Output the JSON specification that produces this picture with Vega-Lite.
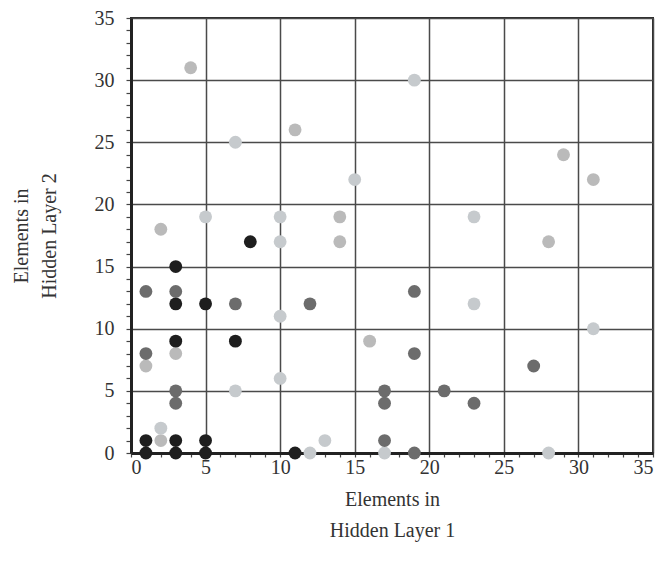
{
  "$schema": "https://vega.github.io/schema/vega-lite/v6.json",
  "width": 522,
  "height": 435,
  "autosize": {"type": "none"},
  "padding": {"left": 131, "top": 18, "right": 12, "bottom": 124},
  "background": "white",
  "config": {
    "view": {"stroke": "#2a2a2a", "strokeWidth": 2},
    "font": "Liberation Serif"
  },
  "data": {
    "values": [
      {"h1": 4, "h2": 31, "group": "D"},
      {"h1": 11, "h2": 26, "group": "D"},
      {"h1": 2, "h2": 18, "group": "D"},
      {"h1": 14, "h2": 19, "group": "D"},
      {"h1": 14, "h2": 17, "group": "D"},
      {"h1": 16, "h2": 9, "group": "D"},
      {"h1": 28, "h2": 17, "group": "D"},
      {"h1": 29, "h2": 24, "group": "D"},
      {"h1": 31, "h2": 22, "group": "D"},
      {"h1": 3, "h2": 8, "group": "D"},
      {"h1": 1, "h2": 7, "group": "D"},
      {"h1": 2, "h2": 1, "group": "D"},
      {"h1": 19, "h2": 30, "group": "C"},
      {"h1": 7, "h2": 25, "group": "C"},
      {"h1": 15, "h2": 22, "group": "C"},
      {"h1": 5, "h2": 19, "group": "C"},
      {"h1": 10, "h2": 19, "group": "C"},
      {"h1": 23, "h2": 19, "group": "C"},
      {"h1": 10, "h2": 17, "group": "C"},
      {"h1": 10, "h2": 11, "group": "C"},
      {"h1": 23, "h2": 12, "group": "C"},
      {"h1": 31, "h2": 10, "group": "C"},
      {"h1": 10, "h2": 6, "group": "C"},
      {"h1": 7, "h2": 5, "group": "C"},
      {"h1": 2, "h2": 2, "group": "C"},
      {"h1": 13, "h2": 1, "group": "C"},
      {"h1": 12, "h2": 0, "group": "C"},
      {"h1": 17, "h2": 0, "group": "C"},
      {"h1": 28, "h2": 0, "group": "C"},
      {"h1": 1, "h2": 13, "group": "B"},
      {"h1": 1, "h2": 8, "group": "B"},
      {"h1": 3, "h2": 13, "group": "B"},
      {"h1": 3, "h2": 5, "group": "B"},
      {"h1": 3, "h2": 4, "group": "B"},
      {"h1": 7, "h2": 12, "group": "B"},
      {"h1": 12, "h2": 12, "group": "B"},
      {"h1": 17, "h2": 5, "group": "B"},
      {"h1": 17, "h2": 4, "group": "B"},
      {"h1": 17, "h2": 1, "group": "B"},
      {"h1": 19, "h2": 0, "group": "B"},
      {"h1": 19, "h2": 13, "group": "B"},
      {"h1": 19, "h2": 8, "group": "B"},
      {"h1": 21, "h2": 5, "group": "B"},
      {"h1": 23, "h2": 4, "group": "B"},
      {"h1": 27, "h2": 7, "group": "B"},
      {"h1": 1, "h2": 0, "group": "A"},
      {"h1": 1, "h2": 1, "group": "A"},
      {"h1": 3, "h2": 0, "group": "A"},
      {"h1": 3, "h2": 1, "group": "A"},
      {"h1": 5, "h2": 0, "group": "A"},
      {"h1": 5, "h2": 1, "group": "A"},
      {"h1": 3, "h2": 9, "group": "A"},
      {"h1": 3, "h2": 12, "group": "A"},
      {"h1": 3, "h2": 15, "group": "A"},
      {"h1": 5, "h2": 12, "group": "A"},
      {"h1": 7, "h2": 9, "group": "A"},
      {"h1": 8, "h2": 17, "group": "A"},
      {"h1": 11, "h2": 0, "group": "A"}
    ]
  },
  "mark": {"type": "circle", "size": 165, "opacity": 1},
  "encoding": {
    "x": {
      "field": "h1",
      "type": "quantitative",
      "scale": {"domain": [0, 35], "nice": false, "zero": true},
      "axis": {
        "title": ["Elements in", "Hidden Layer 1"],
        "values": [0,1,2,3,4,5,6,7,8,9,10,11,12,13,14,15,16,17,18,19,20,21,22,23,24,25,26,27,28,29,30,31,32,33,34,35],
        "labelExpr": "datum.value % 5 === 0 ? datum.label : ''",
        "labelOverlap": false,
        "labelFont": "Liberation Serif",
        "labelFontSize": 20,
        "labelColor": "#333333",
        "labelPadding": 0,
        "titleFont": "Liberation Serif",
        "titleFontSize": 20,
        "titleFontWeight": "normal",
        "titleColor": "#333333",
        "titleLineHeight": 31,
        "titlePadding": 12,
        "domainColor": "#222222",
        "domainWidth": 3,
        "tickColor": "#444444",
        "tickWidth": 1.2,
        "tickSize": 4,
        "grid": true,
        "gridColor": "#4a4a4a",
        "gridWidth": 1.5,
        "gridOpacity": {"condition": {"test": "datum.value % 5 === 0", "value": 1}, "value": 0}
      }
    },
    "y": {
      "field": "h2",
      "type": "quantitative",
      "scale": {"domain": [0, 35], "nice": false, "zero": true},
      "axis": {
        "title": ["Elements in", "Hidden Layer 2"],
        "values": [0,1,2,3,4,5,6,7,8,9,10,11,12,13,14,15,16,17,18,19,20,21,22,23,24,25,26,27,28,29,30,31,32,33,34,35],
        "labelExpr": "datum.value % 5 === 0 ? datum.label : ''",
        "labelOverlap": false,
        "labelFont": "Liberation Serif",
        "labelFontSize": 20,
        "labelColor": "#333333",
        "labelPadding": 12,
        "titleFont": "Liberation Serif",
        "titleFontSize": 20,
        "titleFontWeight": "normal",
        "titleColor": "#333333",
        "titleLineHeight": 28,
        "titlePadding": 35,
        "domainColor": "#222222",
        "domainWidth": 3,
        "tickColor": "#444444",
        "tickWidth": 1.2,
        "tickSize": 5,
        "grid": true,
        "gridColor": "#4a4a4a",
        "gridWidth": 1.5,
        "gridOpacity": {"condition": {"test": "datum.value % 5 === 0", "value": 1}, "value": 0}
      }
    },
    "color": {
      "field": "group",
      "type": "nominal",
      "scale": {"domain": ["A", "B", "C", "D"], "range": ["#1e1e1e", "#6c6c6c", "#c6cacd", "#bababa"]},
      "legend": null
    }
  }
}
